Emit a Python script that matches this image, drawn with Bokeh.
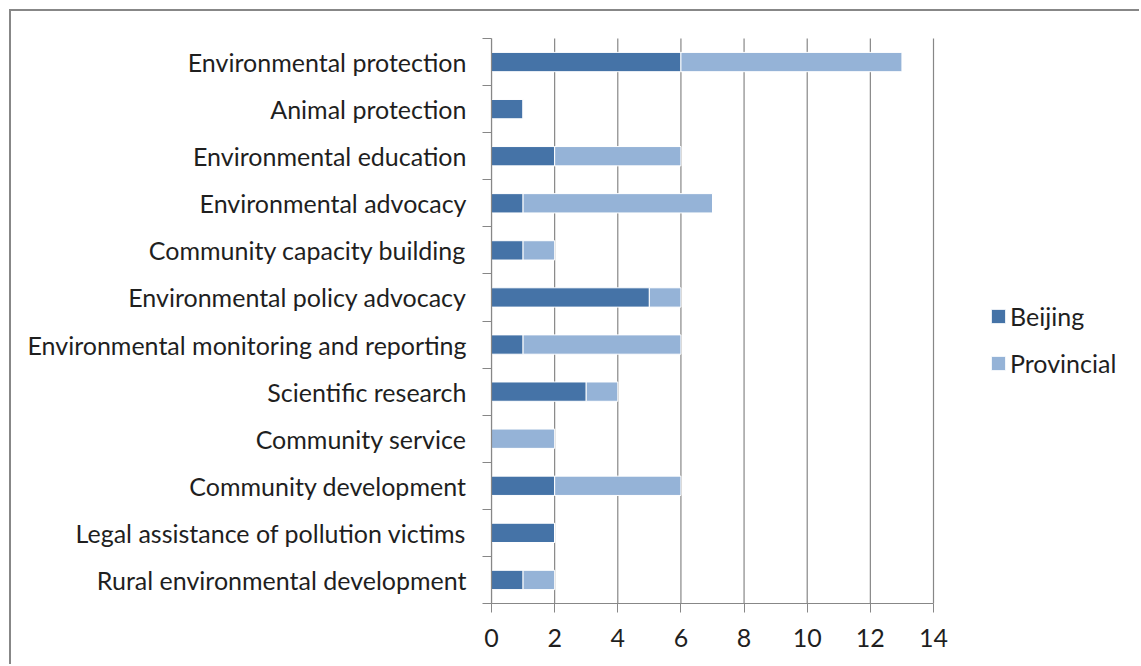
from bokeh.plotting import figure
from bokeh.models import (ColumnDataSource, FixedTicker, Legend, LegendItem, Range1d)
from bokeh.embed import file_html
from bokeh.resources import INLINE

categories = [
    "Environmental protection",
    "Animal protection",
    "Environmental education",
    "Environmental advocacy",
    "Community capacity building",
    "Environmental policy advocacy",
    "Environmental monitoring and reporting",
    "Scientific research",
    "Community service",
    "Community development",
    "Legal assistance of pollution victims",
    "Rural environmental development",
]
beijing = [6, 1, 2, 1, 1, 5, 1, 3, 0, 2, 2, 1]
provincial = [7, 0, 4, 6, 1, 1, 5, 1, 2, 4, 0, 1]
x_ticks = [0, 2, 4, 6, 8, 10, 12, 14]

FONT = "Lato"
FS = "25px"
TXT = "#1f1f1f"
GRID = "#878787"
C_BJ = "#4573A7"
C_PR = "#95B3D7"

OFF = 11                       # page offset of the canvas (CSS margin + border)
W, H = 1141 - OFF, 666 - OFF
PX_L, PX_R = 491, 933          # page x of 0 and 14
PY_T, PY_B = 38, 603           # page y of plot-area top / bottom
n = len(categories)
xmax = x_ticks[-1]
x_end = xmax * (1141 - PX_L) / (PX_R - PX_L)
y_end = n * (PY_B - OFF) / (PY_B - PY_T)

ypos = [n - 0.5 - i for i in range(n)]
src = ColumnDataSource(dict(
    y=ypos, bj=beijing, pr=provincial,
    tot=[b + q for b, q in zip(beijing, provincial)],
))

p = figure(width=W, height=H, output_backend="svg", toolbar_location=None,
           x_range=Range1d(0, x_end), y_range=Range1d(0, y_end),
           min_border_left=PX_L - OFF, min_border_right=0,
           min_border_top=0, min_border_bottom=666 - PY_B)
p.styles = {"margin-left": "9px", "margin-top": "9px",
            "border-left": "2px solid #878787", "border-top": "2px solid #878787"}
p.outline_line_color = None
p.background_fill_color = "white"
p.border_fill_color = "white"
p.xgrid.grid_line_color = None
p.ygrid.grid_line_color = None

# vertical gridlines limited to the plot area
p.segment(x0=x_ticks, y0=[0] * len(x_ticks), x1=x_ticks, y1=[n] * len(x_ticks),
          line_color=GRID, line_width=1.2)

r1 = p.hbar(y="y", left=0, right="bj", height=0.41, source=src,
            fill_color=C_BJ, line_color="white", line_width=1)
r2 = p.hbar(y="y", left="bj", right="tot", height=0.41, source=src,
            fill_color=C_PR, line_color="white", line_width=1)

xa = p.xaxis[0]
xa.bounds = (0, xmax)
xa.ticker = FixedTicker(ticks=x_ticks)
xa.axis_line_color = GRID
xa.axis_line_width = 1.2
xa.major_tick_line_color = GRID
xa.major_tick_out = 9
xa.major_tick_in = 0
xa.minor_tick_line_color = None
xa.major_label_text_font = FONT
xa.major_label_text_font_size = FS
xa.major_label_text_color = TXT
xa.major_label_standoff = 16

ya = p.yaxis[0]
ya.bounds = (0, n)
ya.ticker = FixedTicker(ticks=ypos, minor_ticks=list(range(n + 1)))
ya.major_label_overrides = {y: c for y, c in zip(ypos, categories)}
ya.axis_line_color = GRID
ya.axis_line_width = 1.2
ya.major_tick_line_color = None
ya.minor_tick_line_color = GRID
ya.minor_tick_out = 9
ya.minor_tick_in = 0
ya.major_label_text_font = FONT
ya.major_label_text_font_size = FS
ya.major_label_text_color = TXT
ya.major_label_standoff = 16

legend = Legend(items=[LegendItem(label="Beijing", renderers=[r1]),
                       LegendItem(label="Provincial", renderers=[r2])],
                location=(498, 225), orientation="vertical")
legend.border_line_color = None
legend.background_fill_alpha = 0
legend.label_text_font = FONT
legend.label_text_font_size = FS
legend.label_text_color = TXT
legend.label_height = 22
legend.glyph_width = 18
legend.glyph_height = 18
legend.label_standoff = 3
legend.spacing = 17
legend.padding = 0
legend.margin = 0
p.add_layout(legend, "center")

open("out.html", "w").write(file_html(p, INLINE))
